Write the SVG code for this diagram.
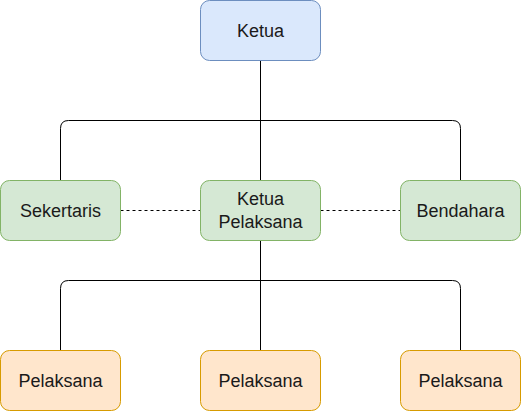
<svg xmlns="http://www.w3.org/2000/svg" width="521" height="411" viewBox="0 0 521 411">
<style>
.blue{fill:#dae8fc;stroke:#6c8ebf;stroke-width:1}
.green{fill:#d5e8d4;stroke:#82b366;stroke-width:1}
.orange{fill:#ffe6cc;stroke:#d79b00;stroke-width:1}
text{font-family:"Liberation Sans",Arial,sans-serif;font-size:18px;fill:#1a1a1a;text-anchor:middle}
.c{fill:none;stroke:#000;stroke-width:1}
.d{stroke-dasharray:3 3}
</style>
<rect width="521" height="411" fill="#ffffff"/>
<g id="connectors">
<path class="c" d="M260.5 60.5 V180.5"/>
<path class="c" d="M60.5 180.5 V128.5 Q60.5 120.5 68.5 120.5 H452.5 Q460.5 120.5 460.5 128.5 V180.5"/>
<path class="c" d="M260.5 240.5 V350.5"/>
<path class="c" d="M60.5 350.5 V288.5 Q60.5 280.5 68.5 280.5 H452.5 Q460.5 280.5 460.5 288.5 V350.5"/>
<path class="c d" d="M120.5 210.5 H200.5"/>
<path class="c d" d="M320.5 210.5 H400.5"/>
</g>
<g id="ketua"><rect class="blue" x="200.5" y="0.5" width="120" height="60" rx="9"/><text x="260.5" y="36.5">Ketua</text></g>
<g id="sekertaris"><rect class="green" x="0.5" y="180.5" width="120" height="60" rx="9"/><text x="60.5" y="216.5">Sekertaris</text></g>
<g id="ketua-pelaksana"><rect class="green" x="200.5" y="180.5" width="120" height="60" rx="9"/><text x="260.5" y="204.5">Ketua</text><text x="260.5" y="227.5">Pelaksana</text></g>
<g id="bendahara"><rect class="green" x="400.5" y="180.5" width="120" height="60" rx="9"/><text x="460.5" y="216.5">Bendahara</text></g>
<g id="pelaksana1"><rect class="orange" x="0.5" y="350.5" width="120" height="60" rx="9"/><text x="60.5" y="386.5">Pelaksana</text></g>
<g id="pelaksana2"><rect class="orange" x="200.5" y="350.5" width="120" height="60" rx="9"/><text x="260.5" y="386.5">Pelaksana</text></g>
<g id="pelaksana3"><rect class="orange" x="400.5" y="350.5" width="120" height="60" rx="9"/><text x="460.5" y="386.5">Pelaksana</text></g>
</svg>
